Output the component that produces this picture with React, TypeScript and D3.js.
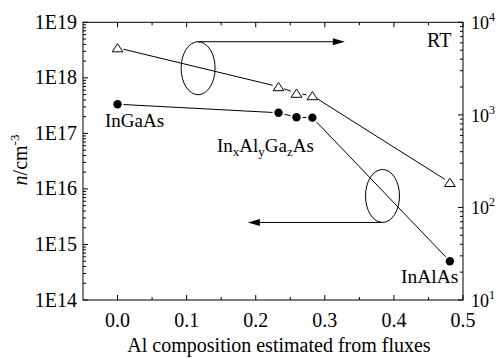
import React from "react";
import * as d3 from "d3";

// ---- data ----
const alComposition = [0.0, 0.233, 0.259, 0.282, 0.481];
const carrierDensity = [3.35e17, 2.35e17, 1.95e17, 1.92e17, 5.0e14]; // left axis, n / cm^-3
const mobility = [5300, 2015, 1710, 1610, 186]; // right axis
const xTickValues = [0.0, 0.1, 0.2, 0.3, 0.4, 0.5];
const xTickLabels = ["0.0", "0.1", "0.2", "0.3", "0.4", "0.5"];
const xMinorValues = [0.05, 0.15, 0.25, 0.35, 0.45];
const leftDecades = [1e14, 1e15, 1e16, 1e17, 1e18, 1e19];
const leftTickLabels = ["1E14", "1E15", "1E16", "1E17", "1E18", "1E19"];
const rightDecades = [10, 100, 1000, 10000];
const rightExponents = ["1", "2", "3", "4"];
// annotations (data coordinates, left axis)
const ellipseUpper = { x: 0.1166, n: 1.49e18, arrowTo: 0.329 };
const ellipseLower = { x: 0.3835, n: 7.47e15, arrowTo: 0.1886 };

const W = 496;
const H = 359;
const L = 83, R = 463, T = 22.3, B = 300;
const FONT = '"Liberation Serif", "DejaVu Serif", "Times New Roman", serif';

export default function App() {
  const x = d3.scaleLinear().domain([-0.05, 0.5]).range([L, R]);
  const yL = d3.scaleLog().domain([1e14, 1e19]).range([B, T]);
  const yR = d3.scaleLog().domain([10, 1e4]).range([B, T]);

  const minorLog = (decades: number[]) => {
    const out: number[] = [];
    for (let i = 0; i < decades.length - 1; i++)
      for (let k = 2; k <= 9; k++) out.push(decades[i] * k);
    return out;
  };

  const gapSegments = (pts: [number, number][], gap: number) => {
    const segs: [number, number, number, number][] = [];
    for (let i = 0; i < pts.length - 1; i++) {
      const [x1, y1] = pts[i];
      const [x2, y2] = pts[i + 1];
      const dx = x2 - x1, dy = y2 - y1;
      const len = Math.hypot(dx, dy);
      if (len <= 2 * gap) continue;
      const ux = dx / len, uy = dy / len;
      segs.push([x1 + ux * gap, y1 + uy * gap, x2 - ux * gap, y2 - uy * gap]);
    }
    return segs;
  };

  const triPts: [number, number][] = alComposition.map((a, i) => [x(a), yR(mobility[i])]);
  const cirPts: [number, number][] = alComposition.map((a, i) => [x(a), yL(carrierDensity[i])]);

  const e1x = x(ellipseUpper.x), e1y = yL(ellipseUpper.n);
  const e2x = x(ellipseLower.x), e2y = yL(ellipseLower.n);
  const rx = 17, ry = 26.5;
  const a1y = e1y - ry, a1end = x(ellipseUpper.arrowTo);
  const a2y = e2y + ry, a2end = x(ellipseLower.arrowTo);

  return (
    <svg width={W} height={H} style={{ position: "absolute", left: 0, top: 0, background: "#fff", fontFamily: FONT }}>
      <rect x={0} y={0} width={W} height={H} fill="#fff" />
      {/* frame */}
      <rect x={L} y={T} width={R - L} height={B - T} fill="none" stroke="#000" strokeWidth={1} />

      {/* x ticks bottom & top */}
      {xTickValues.map((v) => (
        <g key={"xm" + v}>
          <line x1={x(v)} x2={x(v)} y1={B} y2={B - 5} stroke="#000" />
          <line x1={x(v)} x2={x(v)} y1={T} y2={T + 5} stroke="#000" />
        </g>
      ))}
      {xMinorValues.map((v) => (
        <g key={"xn" + v}>
          <line x1={x(v)} x2={x(v)} y1={B} y2={B - 3} stroke="#000" />
          <line x1={x(v)} x2={x(v)} y1={T} y2={T + 3} stroke="#000" />
        </g>
      ))}
      {xTickValues.map((v, i) => (
        <text key={"xl" + v} x={x(v)} y={327} fontSize={20} textAnchor="middle">{xTickLabels[i]}</text>
      ))}

      {/* left axis ticks */}
      {leftDecades.map((v) => (
        <line key={"lm" + v} x1={L} x2={L + 5} y1={yL(v)} y2={yL(v)} stroke="#000" />
      ))}
      {minorLog(leftDecades).map((v) => (
        <line key={"ln" + v} x1={L} x2={L + 3} y1={yL(v)} y2={yL(v)} stroke="#000" />
      ))}
      {leftDecades.map((v, i) => (
        <text key={"ll" + v} x={77} y={yL(v) + 6.5} fontSize={20} textAnchor="end">{leftTickLabels[i]}</text>
      ))}

      {/* right axis ticks */}
      {rightDecades.map((v) => (
        <line key={"rm" + v} x1={R} x2={R - 5} y1={yR(v)} y2={yR(v)} stroke="#000" />
      ))}
      {minorLog(rightDecades).map((v) => (
        <line key={"rn" + v} x1={R} x2={R - 3} y1={yR(v)} y2={yR(v)} stroke="#000" />
      ))}
      {rightDecades.map((v, i) => (
        <text key={"rl" + v} x={471} y={yR(v) + 7} fontSize={18}>
          10<tspan fontSize={12} dy={-8}>{rightExponents[i]}</tspan>
        </text>
      ))}

      {/* axis titles */}
      <text x={279} y={352} fontSize={20} textAnchor="middle">Al composition estimated from fluxes</text>
      <text transform={`translate(27,160) rotate(-90)`} fontSize={20} textAnchor="middle">
        <tspan fontStyle="italic">n</tspan>/cm<tspan fontSize={13} dy={-8}>-3</tspan>
      </text>

      {/* series lines with gaps at symbols */}
      {gapSegments(triPts, 6).map((s, i) => (
        <line key={"tl" + i} x1={s[0]} y1={s[1]} x2={s[2]} y2={s[3]} stroke="#000" strokeWidth={1} />
      ))}
      {gapSegments(cirPts, 6).map((s, i) => (
        <line key={"cl" + i} x1={s[0]} y1={s[1]} x2={s[2]} y2={s[3]} stroke="#000" strokeWidth={1} />
      ))}

      {/* symbols */}
      {triPts.map(([px, py], i) => (
        <path key={"t" + i} d={`M${px},${py - 4.2} L${px + 5.4},${py + 4} L${px - 5.4},${py + 4} Z`} fill="#fff" stroke="#000" strokeWidth={1} />
      ))}
      {cirPts.map(([px, py], i) => (
        <circle key={"c" + i} cx={px} cy={py} r={4.2} fill="#000" />
      ))}

      {/* annotations */}
      <ellipse cx={e1x} cy={e1y} rx={rx} ry={ry} fill="none" stroke="#000" strokeWidth={1} />
      <line x1={e1x} y1={a1y} x2={a1end - 10} y2={a1y} stroke="#000" />
      <path d={`M${a1end},${a1y} L${a1end - 12},${a1y - 3.5} L${a1end - 12},${a1y + 3.5} Z`} fill="#000" />

      <ellipse cx={e2x} cy={e2y} rx={rx} ry={ry} fill="none" stroke="#000" strokeWidth={1} />
      <line x1={e2x} y1={a2y} x2={a2end + 10} y2={a2y} stroke="#000" />
      <path d={`M${a2end},${a2y} L${a2end + 12},${a2y - 3.5} L${a2end + 12},${a2y + 3.5} Z`} fill="#000" />

      {/* labels */}
      <text x={105} y={127} fontSize={19}>InGaAs</text>
      <text x={217} y={151.5} fontSize={19}>
        In<tspan fontSize={13} dy={4}>x</tspan>
        <tspan dy={-4}>Al</tspan><tspan fontSize={13} dy={4}>y</tspan>
        <tspan dy={-4}>Ga</tspan><tspan fontSize={13} dy={4}>z</tspan>
        <tspan dy={-4}>As</tspan>
      </text>
      <text x={401} y={283} fontSize={19.5}>InAlAs</text>
      <text x={427} y={47} fontSize={20}>RT</text>
    </svg>
  );
}
